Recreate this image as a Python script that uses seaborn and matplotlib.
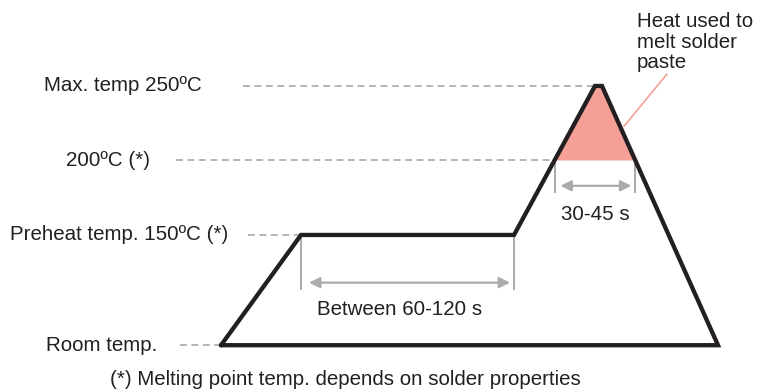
import numpy as np
import pandas as pd
import matplotlib.pyplot as plt
import seaborn as sns

# === 데이터: 리플로우 온도 프로파일 (개략도) ===
# time axis is schematic, temperature levels roughly to scale (room temp not to scale)
profile_t = [221, 301, 514, 595, 602, 718, 221]
profile_temp = [76, 150, 150, 250, 250, 76, 76]

level_names = ['Max. temp 250ºC', '200ºC (*)', 'Preheat temp. 150ºC (*)', 'Room temp.']
level_temp = [250, 200, 150, 76]

melt_temp = 200
preheat_label = 'Between 60-120 s'
melt_label = '30-45 s'
heat_label = 'Heat used to\nmelt solder\npaste'
footnote = '(*) Melting point temp. depends on solder properties'

# === 스타일 ===
sns.set_theme(style='white')
plt.rcParams['font.family'] = ['Liberation Sans', 'DejaVu Sans']
FS = 14.8
DASH = '#a0a0a0'
DIM = '#ababab'
PINK = '#f4a097'

fig = plt.figure(figsize=(7.57, 3.92), dpi=100)
ax = fig.add_axes([0, 0, 1, 1])

df = pd.DataFrame({'t': profile_t, 'temp': profile_temp})

# x where the profile crosses the melting temp (rising and falling edge)
t_up = np.interp(melt_temp, profile_temp[2:4], profile_t[2:4])
t_down = np.interp(melt_temp, profile_temp[5:3:-1], profile_t[5:3:-1])

# 녹는 구간 (pink area)
ax.fill([t_up, profile_t[3], profile_t[4], t_down],
        [melt_temp, profile_temp[3], profile_temp[4], melt_temp],
        color=PINK, lw=0, zorder=1)

# dashed guide lines from labels to the profile
label_x = [202, 150, 228, 157]
dash_start = [243, 176, 248, 180]
dash_end = [profile_t[3], t_up, profile_t[1], profile_t[0]]
for name, temp, lx, x0, x1 in zip(level_names, level_temp, label_x, dash_start, dash_end):
    ax.text(lx, temp, name, ha='right', va='center', fontsize=FS, color='#231f20')
    ax.plot([x0, x1], [temp, temp], color=DASH, lw=1.1, ls=(0, (4.5, 3)), zorder=2)

# profile
sns.lineplot(data=df, x='t', y='temp', sort=False, estimator=None, ax=ax,
             color='#231f20', lw=3.1, zorder=4)
ax.lines[-1].set_solid_joinstyle('miter')
ax.set_xlim(0, 757)
ax.set_ylim(44.6, 307.7)
ax.axis('off')

# dimension lines: preheat
ax.vlines([profile_t[1], profile_t[2]], 113, 150, color=DIM, lw=1.4, zorder=3)
ax.annotate('', xy=(309, 118), xytext=(510, 118),
            arrowprops=dict(arrowstyle='<|-|>', color=DIM, lw=1.6,
                            mutation_scale=16, shrinkA=0, shrinkB=0))
ax.text(400, 100, preheat_label, ha='center', va='center', fontsize=FS, color='#231f20')

# dimension lines: melting
ax.vlines([t_up, t_down], 178, melt_temp, color=DIM, lw=1.4, zorder=3)
ax.annotate('', xy=(t_up + 6, 183), xytext=(t_down - 4, 183),
            arrowprops=dict(arrowstyle='<|-|>', color=DIM, lw=1.6,
                            mutation_scale=16, shrinkA=0, shrinkB=0))
ax.text(595, 164, melt_label, ha='center', va='center', fontsize=FS, color='#231f20')

# leader + heat note
ax.plot([624, 667], [223, 258], color=PINK, lw=1.2, zorder=3)
ax.text(637, 279.5, heat_label, ha='left', va='center', fontsize=FS,
        color='#231f20', linespacing=1.12)

# footnote
ax.text(345, 53, footnote, ha='center', va='center', fontsize=FS, color='#231f20')

fig.savefig('out.png', dpi=100)
